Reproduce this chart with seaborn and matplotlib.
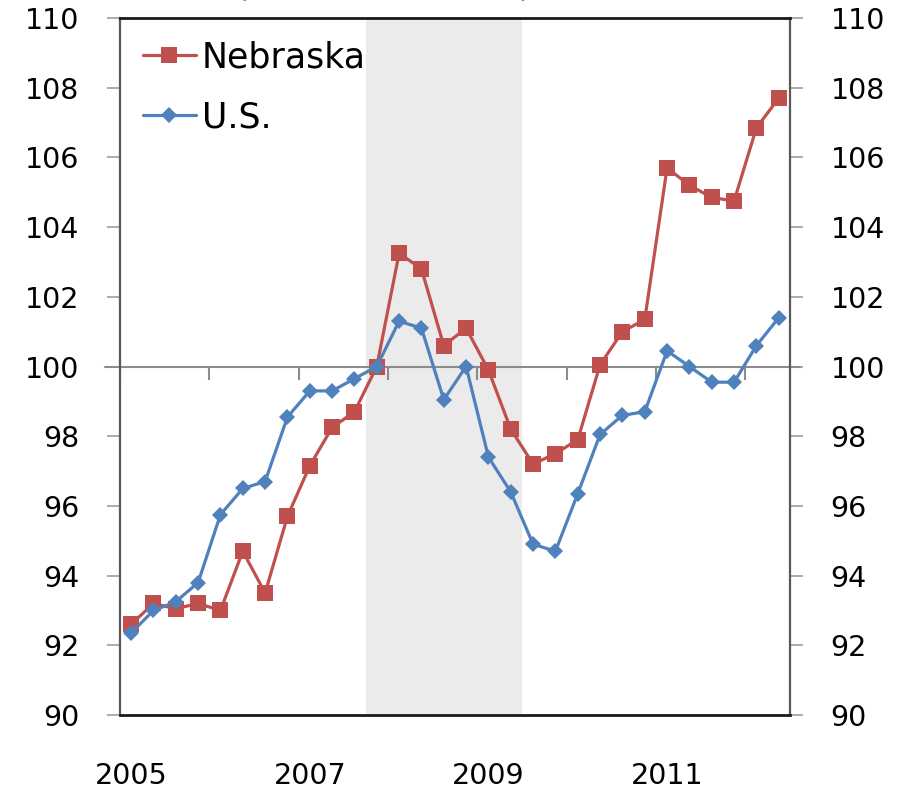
import pandas as pd
import numpy as np
import matplotlib.pyplot as plt
import seaborn as sns

sns.set_style("white")
plt.rcParams['font.family'] = ['DejaVu Sans']
plt.rcParams['text.color'] = 'black'
plt.rcParams['xtick.color'] = 'black'
plt.rcParams['ytick.color'] = 'black'

# Quarterly index values, 2005Q1 - 2012Q2 (2007Q4 = 100)
quarters = [str(p) for p in pd.period_range('2005Q1', '2012Q2', freq='Q')]
nebraska = [92.6, 93.2, 93.05, 93.2, 93.0, 94.7, 93.5, 95.7,
            97.15, 98.25, 98.7, 100.0, 103.25, 102.8, 100.6, 101.1,
            99.9, 98.2, 97.2, 97.5, 97.9, 100.05, 101.0, 101.35,
            105.7, 105.2, 104.85, 104.75, 106.85, 107.7]
us = [92.35, 93.0, 93.25, 93.8, 95.75, 96.5, 96.7, 98.55,
      99.3, 99.3, 99.65, 100.0, 101.3, 101.1, 99.05, 100.0,
      97.4, 96.4, 94.9, 94.7, 96.35, 98.05, 98.6, 98.7,
      100.45, 100.0, 99.55, 99.55, 100.6, 101.4]
year_labels = ['2005', '2007', '2009', '2011']
recession = ('2007Q4', '2009Q2')
y_ticks = list(range(90, 111, 2))

x = np.arange(len(quarters))
df = pd.DataFrame({'x': x, 'Nebraska': nebraska, 'U.S.': us})

fig = plt.figure(figsize=(9.04, 7.91), dpi=100)
ax = fig.add_axes([0.1327, 0.0961, 0.7411, 0.8811])

# recession shading
r0 = quarters.index(recession[0]) - 0.5
r1 = quarters.index(recession[1]) + 0.5
ax.axvspan(r0, r1, color='#EBEBEB', zorder=0, lw=0)

# horizontal axis line at 100 with yearly tick marks
ax.plot([-0.022, 1.015], [100, 100], color='#8C8C8C', lw=1.5,
        transform=ax.get_yaxis_transform(), clip_on=False, zorder=1)
tick_pos = np.arange(-0.5, len(quarters) + 0.5, 4)
ax.vlines(tick_pos, 99.62, 100, color='#8C8C8C', lw=1.5, zorder=1)

sns.lineplot(data=df, x='x', y='Nebraska', color='#C0504D', marker='s',
             markersize=12, markeredgewidth=0, linewidth=2.3,
             label='Nebraska', ax=ax, zorder=3)
sns.lineplot(data=df, x='x', y='U.S.', color='#4F81BD', marker='D',
             markersize=8, markeredgewidth=0, linewidth=2.3,
             label='U.S.', ax=ax, zorder=4)

ax.set_xlim(-0.5, len(quarters) - 0.5)
ax.set_ylim(90, 110)
ax.set_xlabel('')
ax.set_ylabel('')

ax.set_yticks(y_ticks)
ax.set_yticklabels([str(v) for v in y_ticks])
ax.tick_params(axis='y', left=True, right=True, labelleft=True, labelright=True,
               direction='out', length=9.4, width=1.3, color='#A6A6A6',
               labelcolor='black', pad=20, labelsize=20.5)

ax.set_xticks([quarters.index(y + 'Q1') for y in year_labels])
ax.set_xticklabels(year_labels)
ax.tick_params(axis='x', length=0, pad=34, labelsize=20.5, labelcolor='black')

for side in ['left', 'right']:
    ax.spines[side].set_color('#595959')
    ax.spines[side].set_linewidth(1.6)
for side in ['top', 'bottom']:
    ax.spines[side].set_color('#1A1A1A')
    ax.spines[side].set_linewidth(2)

leg = ax.legend(loc='upper left', bbox_to_anchor=(0.0, 1.0), frameon=False,
                fontsize=25, handlelength=1.55, handletextpad=0.15,
                labelspacing=0.75, borderaxespad=0.25, labelcolor='black')

# title text cut off at the top edge
fig.text(237 / 904, 1 + 3 / 791, '(Index, 2007 = 100)', fontsize=21,
         va='baseline', ha='left', color='black')

fig.savefig('out.png', dpi=100)
